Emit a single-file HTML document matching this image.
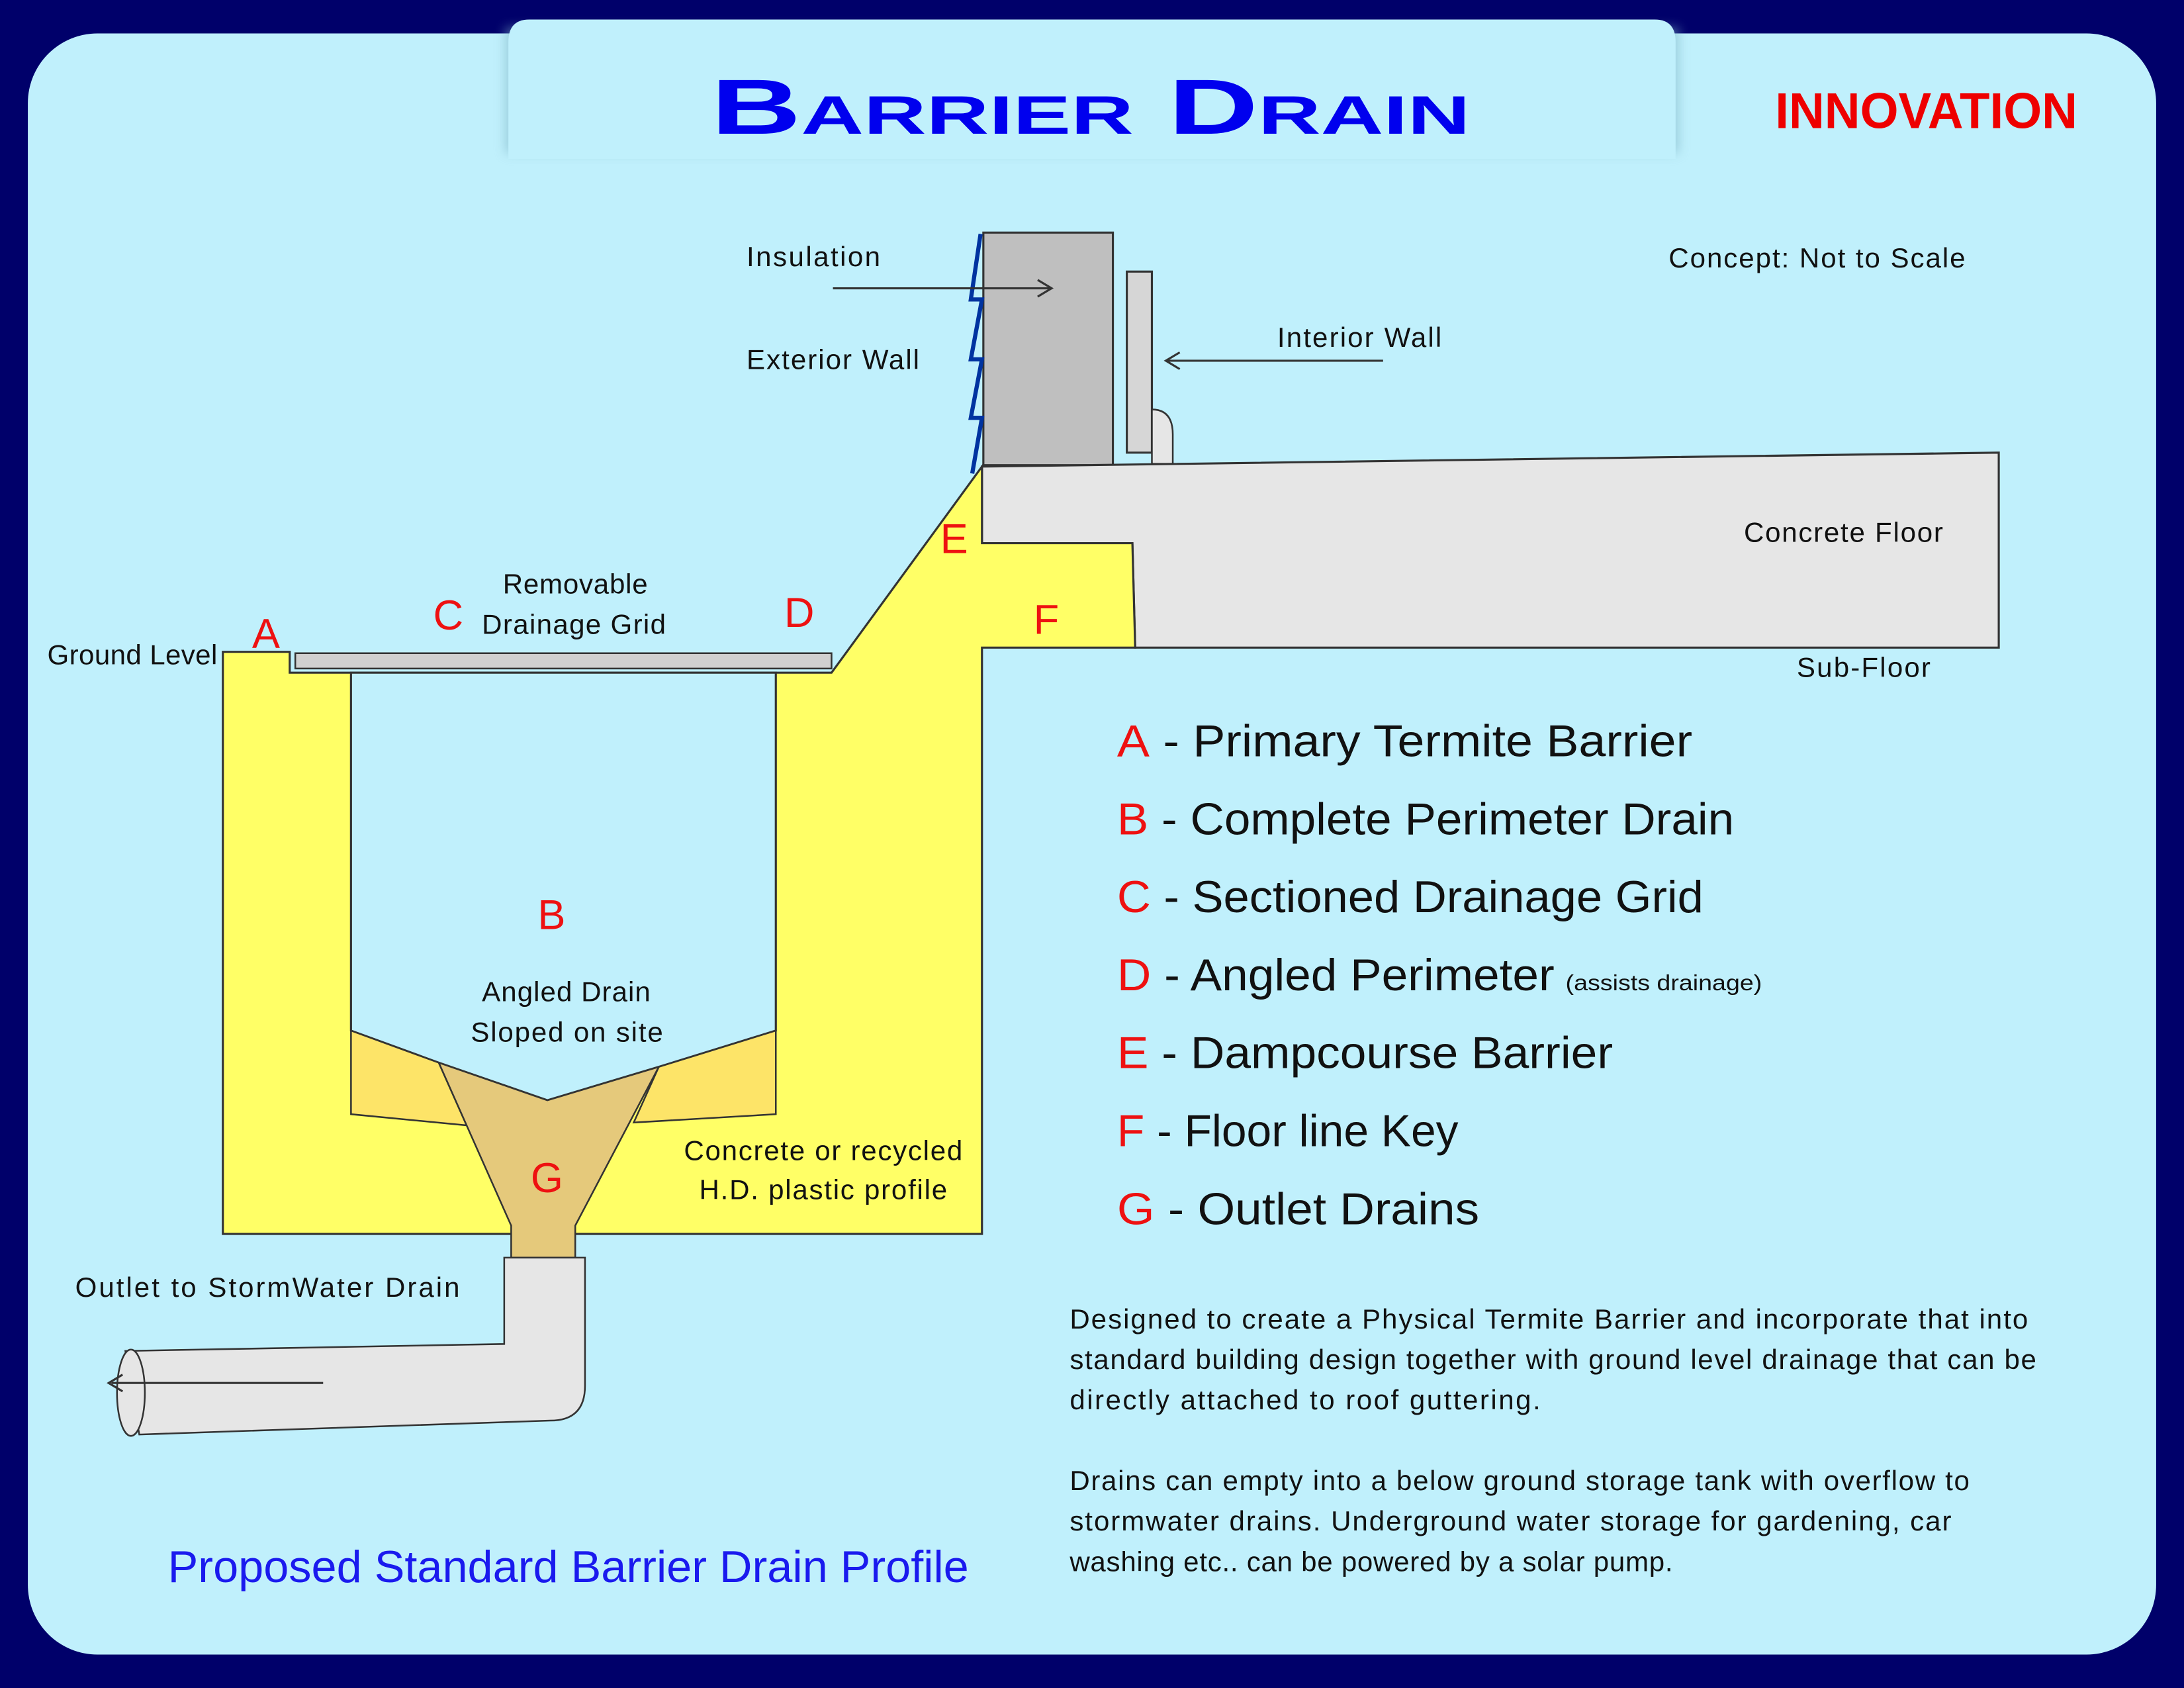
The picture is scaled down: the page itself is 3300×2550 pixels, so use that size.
<!DOCTYPE html>
<html><head><meta charset="utf-8"><style>
html,body{margin:0;padding:0;background:#00006a;}
svg{display:block;}
text{font-family:"Liberation Sans",sans-serif;}
</style></head><body>
<svg width="3300" height="2550" viewBox="0 0 1568 1212" preserveAspectRatio="none" xmlns="http://www.w3.org/2000/svg">
<defs>
<filter id="sh" x="-5%" y="-20%" width="110%" height="140%"><feGaussianBlur stdDeviation="4"/></filter>
</defs>
<rect x="0" y="0" width="1568" height="1212" fill="#00006a"/>
<rect x="20" y="24" width="1528" height="1164" rx="50" fill="#c0f0fc"/>
<rect x="363" y="20" width="842" height="90" fill="#7fb6c6" filter="url(#sh)" opacity="0.6"/>
<path d="M380,14 L1188,14 Q1203,14 1203,30 L1203,114 L365,114 L365,30 Q365,14 380,14 Z" fill="#c0f0fc"/>
<text x="783" y="96" text-anchor="middle" fill="#0000ee" font-size="56" font-weight="bold" style="font-variant:small-caps" textLength="545" lengthAdjust="spacingAndGlyphs">Barrier Drain</text>
<text x="1383" y="92" text-anchor="middle" fill="#ee0000" font-size="36" font-weight="bold" textLength="217" lengthAdjust="spacingAndGlyphs">INNOVATION</text>

<rect x="706" y="167" width="93" height="167" fill="#bfbfbf" stroke="#333" stroke-width="1.5"/>
<rect x="809" y="195" width="18" height="130" fill="#d6d6d6" stroke="#333" stroke-width="1.5"/>
<path d="M827,333 L827,294 Q842,294 842,312 L842,333 Z" fill="#e6e6e6" stroke="#333" stroke-width="1.2"/>
<polyline points="704,168 697,215 705,215 697,258 705,258 697,300 705,300 698,340" fill="none" stroke="#0033a0" stroke-width="3"/>
<polygon points="705,335 1435,325 1435,465 815,465 813,390 705,390" fill="#e6e6e6" stroke="#333" stroke-width="1.5"/>
<polygon points="160,468 208,468 208,483 597,483 705,335 705,390 813,390 815,465 705,465 705,886 160,886" fill="#ffff66" stroke="#333" stroke-width="1.5"/>
<polygon points="252,483 557,483 557,740 473,766 393,790 315,763 252,740" fill="#c0f0fc" stroke="#333" stroke-width="1.5"/>
<polygon points="252,740 315,763 335,808 252,800" fill="#fde468" stroke="#333" stroke-width="1.2"/>
<polygon points="557,740 473,766 455,806 557,800" fill="#fde468" stroke="#333" stroke-width="1.2"/>
<polygon points="315,763 393,790 473,766 413,880 413,903 367,903 367,880" fill="#e5c97b" stroke="#333" stroke-width="1.2"/>
<rect x="212" y="469" width="385" height="11" fill="#d0d0d0" stroke="#333" stroke-width="1.2"/>
<path d="M362,903 L420,903 L420,995 Q420,1020 395,1020 L100,1030 L90,970 L362,965 Z" fill="#e6e6e6" stroke="#333" stroke-width="1.2"/>
<ellipse cx="94" cy="1000" rx="10" ry="31" fill="#e6e6e6" stroke="#333" stroke-width="1.2"/>
<line x1="232" y1="993" x2="80" y2="993" stroke="#333" stroke-width="1.5"/>
<polyline points="88,987 78,993 88,999" fill="none" stroke="#333" stroke-width="1.5"/>
<line x1="598" y1="207" x2="755" y2="207" stroke="#333" stroke-width="1.5"/>
<polyline points="745,201 755,207 745,213" fill="none" stroke="#333" stroke-width="1.5"/>
<line x1="993" y1="259" x2="837" y2="259" stroke="#333" stroke-width="1.5"/>
<polyline points="847,253 837,259 847,265" fill="none" stroke="#333" stroke-width="1.5"/>

<g font-size="20" fill="#111" lengthAdjust="spacingAndGlyphs">
<text x="536" y="191" textLength="96">Insulation</text>
<text x="536" y="265" textLength="124">Exterior Wall</text>
<text x="917" y="249" textLength="118">Interior Wall</text>
<text x="1198" y="192" textLength="213">Concept: Not to Scale</text>
<text x="1252" y="389" textLength="143">Concrete Floor</text>
<text x="1290" y="486" textLength="96">Sub-Floor</text>
<text x="34" y="477" textLength="122">Ground Level</text>
<text x="361" y="426" textLength="104">Removable</text>
<text x="346" y="455" textLength="132">Drainage Grid</text>
<text x="346" y="719" textLength="121">Angled Drain</text>
<text x="338" y="748" textLength="138">Sloped on site</text>
<text x="491" y="833" textLength="200">Concrete or recycled</text>
<text x="502" y="861" textLength="178">H.D. plastic profile</text>
<text x="54" y="931" textLength="276">Outlet to StormWater Drain</text>
</g>
<g font-size="30" fill="#ee1111">
<text x="181" y="465">A</text>
<text x="311" y="452">C</text>
<text x="563" y="450">D</text>
<text x="386" y="667">B</text>
<text x="675" y="397">E</text>
<text x="742" y="455">F</text>
<text x="381" y="856">G</text>
</g>
<g font-size="32" fill="#111">
<text x="802" y="543" textLength="413" lengthAdjust="spacingAndGlyphs"><tspan fill="#ee1111">A</tspan> - Primary Termite Barrier</text>
<text x="802" y="599" textLength="443" lengthAdjust="spacingAndGlyphs"><tspan fill="#ee1111">B</tspan> - Complete Perimeter Drain</text>
<text x="802" y="655" textLength="421" lengthAdjust="spacingAndGlyphs"><tspan fill="#ee1111">C</tspan> - Sectioned Drainage Grid</text>
<text x="802" y="711" textLength="314" lengthAdjust="spacingAndGlyphs"><tspan fill="#ee1111">D</tspan> - Angled Perimeter</text>
<text x="1124" y="711" font-size="16" textLength="141" lengthAdjust="spacingAndGlyphs">(assists drainage)</text>
<text x="802" y="767" textLength="356" lengthAdjust="spacingAndGlyphs"><tspan fill="#ee1111">E</tspan> - Dampcourse Barrier</text>
<text x="802" y="823" textLength="245" lengthAdjust="spacingAndGlyphs"><tspan fill="#ee1111">F</tspan> - Floor line Key</text>
<text x="802" y="879" textLength="260" lengthAdjust="spacingAndGlyphs"><tspan fill="#ee1111">G</tspan> - Outlet Drains</text>
</g>
<g font-size="20" fill="#111" lengthAdjust="spacingAndGlyphs">
<text x="768" y="954" textLength="688">Designed to create a Physical Termite Barrier and incorporate that into</text>
<text x="768" y="983" textLength="694">standard building design together with ground level drainage that can be</text>
<text x="768" y="1012" textLength="338">directly attached to roof guttering.</text>
<text x="768" y="1070" textLength="646">Drains can empty into a below ground storage tank with overflow to</text>
<text x="768" y="1099" textLength="633">stormwater drains. Underground water storage for gardening, car</text>
<text x="768" y="1128" textLength="433">washing etc.. can be powered by a solar pump.</text>
</g>
<text x="408" y="1136" text-anchor="middle" font-size="32" fill="#1a1aee" textLength="575" lengthAdjust="spacingAndGlyphs">Proposed Standard Barrier Drain Profile</text>
</svg>
</body></html>
